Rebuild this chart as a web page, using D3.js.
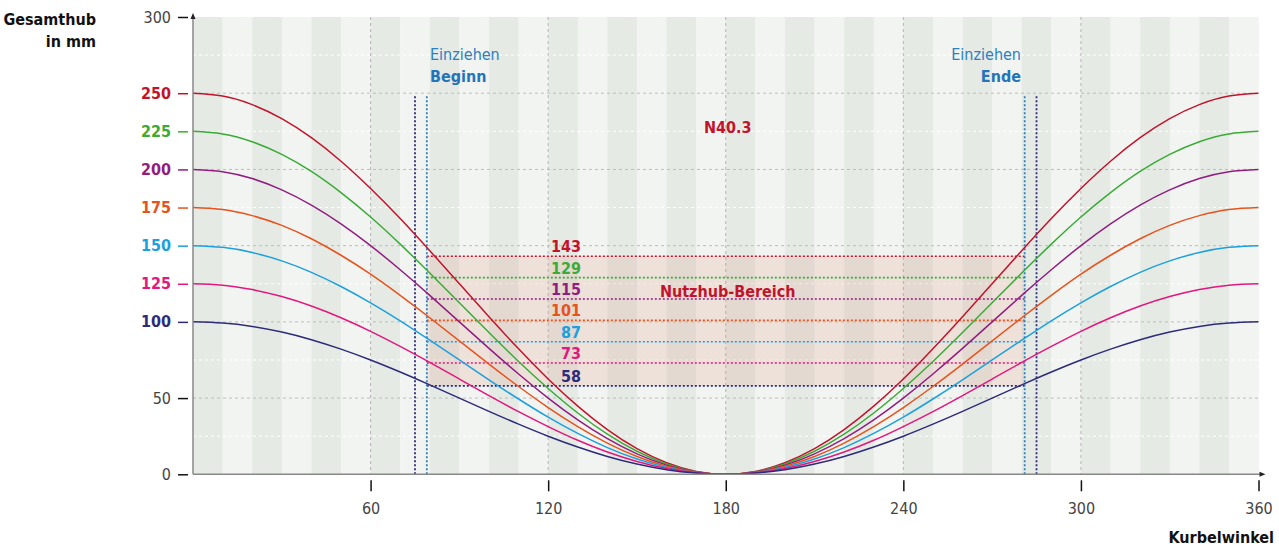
<!DOCTYPE html>
<html>
<head>
<meta charset="utf-8">
<script src="https://cdn.jsdelivr.net/npm/d3@7/dist/d3.min.js"></script>
<style>
    body { margin: 0; background: #fff; }
    text { font-family: "Liberation Sans Narrow", "DejaVu Sans Condensed", "Noto Sans", sans-serif; }
</style>
</head>
<body>
<script>
//crank angles, every 10 degrees
var angles = [0,10,20,30,40,50,60,70,80,90,100,110,120,130,140,150,160,170,180,
              190,200,210,220,230,240,250,260,270,280,290,300,310,320,330,340,350,360];

//total stroke (mm) per curve and its colour
var strokes = [250, 225, 200, 175, 150, 125, 100];
var strokeColors = ["#c3132b", "#3aab36", "#921d80", "#e8521d", "#1ca0de", "#e3177d", "#2d2b7a"];

//stroke height (mm) at each angle, one list per curve
var hub250 = [250,248.1,242.5,233.3,220.8,205.4,187.5,167.8,146.7,125,103.3,82.3,62.5,44.7,29.3,16.8,7.6,1.9,0,
              1.9,7.6,16.8,29.3,44.7,62.5,82.3,103.3,125,146.7,167.8,187.5,205.4,220.8,233.3,242.5,248.1,250];
var hub225 = [225,223.3,218.2,209.9,198.7,184.8,168.8,151,132,112.5,93,74,56.3,40.2,26.3,15.1,6.8,1.7,0,
              1.7,6.8,15.1,26.3,40.2,56.3,74,93,112.5,132,151,168.8,184.8,198.7,209.9,218.2,223.3,225];
var hub200 = [200,198.5,194,186.6,176.6,164.3,150,134.2,117.4,100,82.6,65.8,50,35.7,23.4,13.4,6,1.5,0,
              1.5,6,13.4,23.4,35.7,50,65.8,82.6,100,117.4,134.2,150,164.3,176.6,186.6,194,198.5,200];
var hub175 = [175,173.7,169.7,163.3,154.5,143.7,131.3,117.4,102.7,87.5,72.3,57.6,43.8,31.3,20.5,11.7,5.3,1.3,0,
              1.3,5.3,11.7,20.5,31.3,43.8,57.6,72.3,87.5,102.7,117.4,131.3,143.7,154.5,163.3,169.7,173.7,175];
var hub150 = [150,148.9,145.5,140,132.5,123.2,112.5,100.7,88,75,62,49.4,37.5,26.8,17.5,10,4.5,1.1,0,
              1.1,4.5,10,17.5,26.8,37.5,49.4,62,75,88,100.7,112.5,123.2,132.5,140,145.5,148.9,150];
var hub125 = [125,124.1,121.2,116.6,110.4,102.7,93.8,83.9,73.4,62.5,51.6,41.1,31.3,22.3,14.6,8.4,3.8,1,0,
              1,3.8,8.4,14.6,22.3,31.3,41.1,51.6,62.5,73.4,83.9,93.8,102.7,110.4,116.6,121.2,124.1,125];
var hub100 = [100,99.2,97,93.3,88.3,82.1,75,67.1,58.7,50,41.3,32.9,25,17.9,11.7,6.7,3,0.8,0,
              0.8,3,6.7,11.7,17.9,25,32.9,41.3,50,58.7,67.1,75,82.1,88.3,93.3,97,99.2,100];
var hubSeries = [hub250, hub225, hub200, hub175, hub150, hub125, hub100];

//usable stroke (mm) for each curve
var usable = [143, 129, 115, 101, 87, 73, 58];

//pulling-in window (degrees)
var beginAngles = [75, 79];
var endAngles = [281, 285];

//tick values
var yTickValues = [0, 50, 100, 125, 150, 175, 200, 225, 250, 300];
var yMajorGrid = [50, 100, 150, 200, 250];
var yMinorGrid = [25, 75, 125, 175, 225, 275];
var xTickValues = [60, 120, 180, 240, 300, 360];
var xGrid = [60, 120, 180, 240, 300];

window.onload = setPage();

function setPage() {
    var margin = {top: 17, left: 193},
        width = 1065.5,
        height = 457.3;

    var svg = d3.select("body").append("svg")
        .attr("width", 1279)
        .attr("height", 546);

    var x = d3.scaleLinear().domain([0, 360]).range([margin.left, margin.left + width]);
    var y = d3.scaleLinear().domain([0, 300]).range([margin.top + height, margin.top]);

    //background stripes, 10 degrees each
    var stripes = d3.range(0, 360, 10);
    svg.append("g").selectAll("rect")
        .data(stripes)
        .enter()
      .append("rect")
        .attr("x", function(d) { return x(d); })
        .attr("y", y(300))
        .attr("width", x(10) - x(0) + 0.3)
        .attr("height", y(0) - y(300))
        .attr("fill", function(d, i) { return i % 2 == 0 ? "#e5eae5" : "#f2f4f1"; });

    //grid lines
    var grid = svg.append("g");
    grid.selectAll(".minor")
        .data(yMinorGrid)
        .enter()
      .append("line")
        .attr("x1", x(0)).attr("x2", x(360))
        .attr("y1", function(d) { return y(d); })
        .attr("y2", function(d) { return y(d); })
        .attr("stroke", "#ffffff")
        .attr("stroke-dasharray", "3,3");
    grid.selectAll(".major")
        .data(yMajorGrid)
        .enter()
      .append("line")
        .attr("x1", x(0)).attr("x2", x(360))
        .attr("y1", function(d) { return y(d); })
        .attr("y2", function(d) { return y(d); })
        .attr("stroke", "#bdbdbd")
        .attr("stroke-dasharray", "3,3");
    grid.selectAll(".vert")
        .data(xGrid)
        .enter()
      .append("line")
        .attr("x1", function(d) { return x(d); })
        .attr("x2", function(d) { return x(d); })
        .attr("y1", y(300)).attr("y2", y(0))
        .attr("stroke", "#b5b5b5")
        .attr("stroke-dasharray", "3,3");

    //usable stroke band
    svg.append("rect")
        .attr("x", x(beginAngles[1]))
        .attr("y", y(usable[0]))
        .attr("width", x(endAngles[0]) - x(beginAngles[1]))
        .attr("height", y(usable[6]) - y(usable[0]))
        .attr("fill", "rgb(220,150,130)")
        .attr("fill-opacity", 0.2);

    //dotted usable lines
    svg.append("g").selectAll("line")
        .data(usable)
        .enter()
      .append("line")
        .attr("x1", x(beginAngles[1]))
        .attr("x2", x(endAngles[0]))
        .attr("y1", function(d) { return y(d); })
        .attr("y2", function(d) { return y(d); })
        .attr("stroke", function(d, i) { return strokeColors[i]; })
        .attr("stroke-width", 1.6)
        .attr("stroke-dasharray", "2,2");

    //pulling-in vertical markers
    var marks = [
        {a: beginAngles[0], c: "#2d2b7a"},
        {a: beginAngles[1], c: "#2b7fc4"},
        {a: endAngles[0], c: "#2b7fc4"},
        {a: endAngles[1], c: "#2d2b7a"}
    ];
    svg.append("g").selectAll("line")
        .data(marks)
        .enter()
      .append("line")
        .attr("x1", function(d) { return x(d.a); })
        .attr("x2", function(d) { return x(d.a); })
        .attr("y1", y(248)).attr("y2", y(0))
        .attr("stroke", function(d) { return d.c; })
        .attr("stroke-width", 1.8)
        .attr("stroke-dasharray", "2,2");

    //stroke curves
    var line = d3.line()
        .x(function(d, i) { return x(angles[i]); })
        .y(function(d) { return y(d); })
        .curve(d3.curveNatural);

    svg.append("g").selectAll("path")
        .data(hubSeries)
        .enter()
      .append("path")
        .attr("d", line)
        .attr("fill", "none")
        .attr("stroke", function(d, i) { return strokeColors[i]; })
        .attr("stroke-width", 1.5);

    //axes lines with arrows
    svg.append("line")
        .attr("x1", x(0)).attr("x2", x(0))
        .attr("y1", y(0)).attr("y2", y(300) - 2)
        .attr("stroke", "#888").attr("stroke-width", 1.5);
    svg.append("path")
        .attr("d", "M" + (x(0) - 2.5) + "," + (y(300) + 2) + "L" + x(0) + "," + (y(300) - 4) + "L" + (x(0) + 2.5) + "," + (y(300) + 2) + "Z")
        .attr("fill", "#222");
    svg.append("line")
        .attr("x1", x(0)).attr("x2", x(360) + 2)
        .attr("y1", y(0)).attr("y2", y(0))
        .attr("stroke", "#888").attr("stroke-width", 1.5);
    svg.append("path")
        .attr("d", "M" + (x(360) + 1) + "," + (y(0) - 2.5) + "L" + (x(360) + 7) + "," + y(0) + "L" + (x(360) + 1) + "," + (y(0) + 2.5) + "Z")
        .attr("fill", "#222");

    //y axis ticks
    var yAxis = svg.append("g")
        .attr("transform", "translate(" + (x(0) - 5) + ",0)")
        .call(d3.axisLeft(y).tickValues(yTickValues).tickSize(10).tickPadding(7));
    yAxis.select(".domain").remove();
    yAxis.selectAll(".tick line")
        .attr("stroke-width", 1.5)
        .attr("stroke", function(d) { return tickColor(d); });
    yAxis.selectAll(".tick text")
        .attr("font-size", 16)
        .attr("font-weight", function(d) { return strokes.indexOf(d) >= 0 ? "bold" : "normal"; })
        .attr("fill", function(d) { return strokes.indexOf(d) >= 0 ? tickColor(d) : "#444"; });

    function tickColor(d) {
        var i = strokes.indexOf(d);
        return i >= 0 ? strokeColors[i] : "#111";
    }

    //x axis ticks
    var xAxis = svg.append("g")
        .attr("transform", "translate(0," + (y(0) + 6) + ")")
        .call(d3.axisBottom(x).tickValues(xTickValues).tickSize(11).tickPadding(11));
    xAxis.select(".domain").remove();
    xAxis.selectAll(".tick line").attr("stroke", "#111").attr("stroke-width", 1.5);
    xAxis.selectAll(".tick text").attr("font-size", 16).attr("fill", "#444");

    //axis titles
    svg.append("text")
        .attr("x", 96).attr("y", 25)
        .attr("text-anchor", "end")
        .attr("font-size", 16).attr("font-weight", "bold").attr("fill", "#111")
        .text("Gesamthub");
    svg.append("text")
        .attr("x", 96).attr("y", 47)
        .attr("text-anchor", "end")
        .attr("font-size", 16).attr("font-weight", "bold").attr("fill", "#111")
        .text("in mm");
    svg.append("text")
        .attr("x", 1274).attr("y", 543)
        .attr("text-anchor", "end")
        .attr("font-size", 16).attr("font-weight", "bold").attr("fill", "#111")
        .text("Kurbelwinkel");

    //usable stroke value labels
    svg.append("g").selectAll("text")
        .data(usable)
        .enter()
      .append("text")
        .attr("x", 581)
        .attr("y", function(d) { return y(d) - 4; })
        .attr("text-anchor", "end")
        .attr("font-size", 16).attr("font-weight", "bold")
        .attr("fill", function(d, i) { return strokeColors[i]; })
        .text(function(d) { return d; });

    svg.append("text")
        .attr("x", x(180) + 2).attr("y", 297)
        .attr("text-anchor", "middle")
        .attr("font-size", 16).attr("font-weight", "bold").attr("fill", "#c3132b")
        .text("Nutzhub-Bereich");
    svg.append("text")
        .attr("x", x(180) + 2).attr("y", 133)
        .attr("text-anchor", "middle")
        .attr("font-size", 16).attr("font-weight", "bold").attr("fill", "#c3132b")
        .text("N40.3");

    //pulling-in labels
    svg.append("text")
        .attr("x", 430).attr("y", 60)
        .attr("font-size", 16).attr("fill", "#2b7fc4")
        .text("Einziehen");
    svg.append("text")
        .attr("x", 430).attr("y", 82)
        .attr("font-size", 16).attr("font-weight", "bold").attr("fill", "#2474bb")
        .text("Beginn");
    svg.append("text")
        .attr("x", 1021).attr("y", 60)
        .attr("text-anchor", "end")
        .attr("font-size", 16).attr("fill", "#2b7fc4")
        .text("Einziehen");
    svg.append("text")
        .attr("x", 1021).attr("y", 82)
        .attr("text-anchor", "end")
        .attr("font-size", 16).attr("font-weight", "bold").attr("fill", "#2474bb")
        .text("Ende");
}
</script>
</body>
</html>
